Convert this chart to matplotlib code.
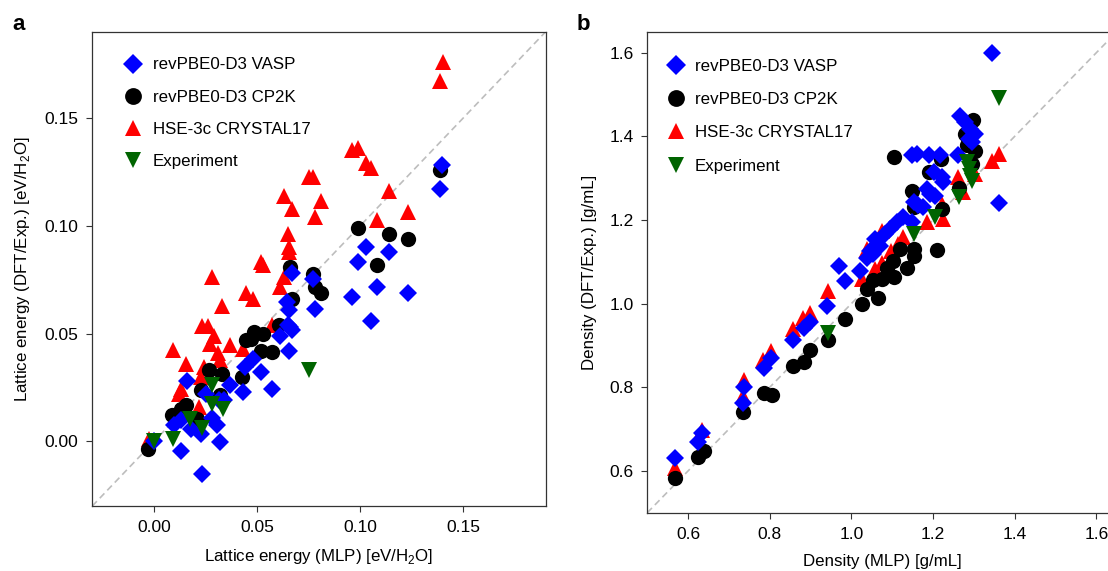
import matplotlib
matplotlib.use("Agg")
import matplotlib.pyplot as plt

plt.rcParams['font.family'] = ['Liberation Sans', 'DejaVu Sans']
plt.rcParams['mathtext.fontset'] = 'custom'
plt.rcParams['mathtext.rm'] = 'Liberation Sans'

labels = ["revPBE0-D3 VASP", "revPBE0-D3 CP2K", "HSE-3c CRYSTAL17", "Experiment"]

# ---- Panel a: lattice energy ----
a_vasp_x = [0.1395, 0.1387, 0.103, 0.114, 0.099, 0.108, 0.123, 0.096, 0.105, 0.067, 0.077, 0.078,
            0.0645, 0.0656, 0.065, 0.066, 0.067, 0.061, 0.0653, 0.048, 0.044, 0.052, 0.057, 0.037,
            0.043, 0.016, 0.025, 0.0315, 0.034, 0.028, 0.0306, 0.0226, 0.0177, 0.0097, 0.013, 0.032,
            0.013, 0.023, 0.0]
a_vasp_y = [0.128, 0.117, 0.090, 0.088, 0.083, 0.0717, 0.069, 0.067, 0.056, 0.078, 0.0755, 0.0616,
            0.0647, 0.0608, 0.054, 0.053, 0.0515, 0.049, 0.042, 0.038, 0.0345, 0.032, 0.0245, 0.026,
            0.023, 0.028, 0.022, 0.019, 0.019, 0.011, 0.0074, 0.0036, 0.0059, 0.0074, 0.0098, -0.0003,
            -0.0045, -0.0153, 0.0]
a_cp2k_x = [0.1387, 0.099, 0.114, 0.123, 0.108, 0.066, 0.077, 0.078, 0.081, 0.067, 0.0605, 0.0484,
            0.053, 0.0444, 0.052, 0.057, 0.0427, 0.0266, 0.033, 0.0226, 0.032, 0.0153, 0.013, 0.0089,
            0.021, -0.003, 0.0468]
a_cp2k_y = [0.126, 0.099, 0.096, 0.094, 0.082, 0.081, 0.0774, 0.0714, 0.0689, 0.066, 0.054, 0.0508,
            0.050, 0.047, 0.042, 0.0415, 0.030, 0.033, 0.0314, 0.0237, 0.0214, 0.0167, 0.0152, 0.012,
            0.0105, -0.0034, 0.0477]
a_hse_x = [0.14, 0.1387, 0.096, 0.099, 0.103, 0.105, 0.075, 0.077, 0.114, 0.063, 0.081, 0.067, 0.078,
           0.108, 0.123, 0.065, 0.0656, 0.0656, 0.052, 0.053, 0.028, 0.063, 0.061, 0.0448, 0.048,
           0.033, 0.023, 0.026, 0.029, 0.027, 0.037, 0.043, 0.057, 0.0092, 0.031, 0.032, 0.0153,
           0.024, 0.0226, 0.013, 0.012, 0.022, -0.0024]
a_hse_y = [0.176, 0.167, 0.135, 0.136, 0.129, 0.127, 0.1228, 0.1228, 0.116, 0.114, 0.1116, 0.108, 0.104,
           0.1026, 0.1065, 0.096, 0.090, 0.088, 0.083, 0.0817, 0.0763, 0.0763, 0.0714, 0.0686, 0.0658,
           0.0627, 0.0534, 0.0534, 0.049, 0.045, 0.0446, 0.043, 0.054, 0.0426, 0.041, 0.0376, 0.0358,
           0.0345, 0.030, 0.0245, 0.022, 0.016, 0.0012]
a_exp_x = [0.075, 0.028, 0.028, 0.0334, 0.0173, 0.023, 0.0092, 0.0]
a_exp_y = [0.033, 0.026, 0.0175, 0.0149, 0.0105, 0.006, 0.0012, 0.0]

# ---- Panel b: density ----
b_vasp_x = [1.343, 1.361, 1.266, 1.279, 1.291, 1.303, 1.287, 1.295, 1.148, 1.160, 1.189, 1.217, 1.262,
            1.201, 1.221, 1.225, 1.184, 1.193, 1.205, 1.152, 1.164, 1.176, 1.127, 1.111, 1.148, 1.094,
            1.082, 1.057, 1.07, 1.045, 1.053, 1.037, 1.02, 0.970, 0.984, 0.941, 0.898, 0.885, 0.857,
            0.803, 0.787, 0.738, 0.734, 0.635, 0.623, 0.567]
b_vasp_y = [1.6, 1.241, 1.448, 1.434, 1.418, 1.406, 1.394, 1.386, 1.356, 1.358, 1.356, 1.356, 1.354,
            1.314, 1.302, 1.29, 1.274, 1.262, 1.258, 1.242, 1.236, 1.23, 1.206, 1.194, 1.194, 1.178,
            1.166, 1.154, 1.138, 1.126, 1.118, 1.110, 1.078, 1.090, 1.053, 0.994, 0.957, 0.941, 0.914,
            0.870, 0.846, 0.80, 0.762, 0.690, 0.670, 0.630]
b_cp2k_x = [1.297, 1.279, 1.283, 1.302, 1.295, 1.104, 1.22, 1.189, 1.264, 1.148, 1.152, 1.221, 1.12,
            1.152, 1.152, 1.209, 1.102, 1.086, 1.135, 1.105, 1.074, 1.053, 1.037, 1.066, 1.025, 0.984,
            0.943, 0.898, 0.885, 0.857, 0.787, 0.806, 0.735, 0.639, 0.625, 0.567]
b_cp2k_y = [1.44, 1.406, 1.378, 1.365, 1.334, 1.350, 1.346, 1.314, 1.276, 1.268, 1.230, 1.226, 1.13,
            1.13, 1.114, 1.129, 1.102, 1.086, 1.086, 1.064, 1.058, 1.056, 1.034, 1.014, 0.998, 0.962,
            0.914, 0.888, 0.86, 0.85, 0.786, 0.782, 0.741, 0.648, 0.634, 0.582]
b_hse_x = [1.362, 1.343, 1.262, 1.302, 1.274, 1.225, 1.184, 1.221, 1.127, 1.115, 1.074, 1.037, 1.098,
           1.057, 1.074, 1.025, 0.943, 0.898, 0.881, 0.857, 0.803, 0.783, 0.738, 0.734, 0.635, 0.567]
b_hse_y = [1.357, 1.342, 1.302, 1.31, 1.266, 1.202, 1.194, 1.238, 1.158, 1.142, 1.174, 1.13, 1.126,
           1.082, 1.098, 1.058, 1.03, 0.978, 0.966, 0.938, 0.886, 0.866, 0.818, 0.778, 0.698, 0.606]
b_exp_x = [1.362, 1.283, 1.287, 1.295, 1.291, 1.264, 1.205, 1.152, 0.943]
b_exp_y = [1.492, 1.338, 1.322, 1.294, 1.306, 1.254, 1.206, 1.166, 0.930]

a_ticks = [0.00, 0.05, 0.10, 0.15]
a_ticklabels = ["0.00", "0.05", "0.10", "0.15"]
b_ticks = [0.6, 0.8, 1.0, 1.2, 1.4, 1.6]
b_ticklabels = ["0.6", "0.8", "1.0", "1.2", "1.4", "1.6"]

fig = plt.figure(figsize=(11.08, 5.71), dpi=100)
axa = fig.add_axes([0.0833, 0.1138, 0.4092, 0.8306])
axb = fig.add_axes([0.5842, 0.1021, 0.4238, 0.8424])

styles = [dict(marker='D', color='#0000ff', ms=9.5, z=4),
          dict(marker='o', color='#000000', ms=11, z=3),
          dict(marker='^', color='#ff0000', ms=11, z=2),
          dict(marker='v', color='#006400', ms=11, z=5)]

def draw(ax, series, lims, ticks, ticklabels, xlabel, ylabel, anchor, spacing):
    ax.plot(lims, lims, ls=(0, (4, 2.5)), color='#bdbdbd', lw=1.2, zorder=1)
    handles = []
    for (x, y), st, lab in zip(series, styles, labels):
        h, = ax.plot(x, y, ls='none', marker=st['marker'], color=st['color'], ms=st['ms'],
                     mec=st['color'], mew=0, zorder=st['z'], label=lab)
        handles.append(h)
    ax.set_xlim(*lims)
    ax.set_ylim(*lims)
    ax.set_xticks(ticks)
    ax.set_xticklabels(ticklabels)
    ax.set_yticks(ticks)
    ax.set_yticklabels(ticklabels)
    ax.tick_params(direction='out', length=4, width=0.8, labelsize=12.5, pad=6, color='#333333')
    for s in ax.spines.values():
        s.set_color('#333333')
        s.set_linewidth(0.9)
    ax.set_xlabel(xlabel, fontsize=12.2, labelpad=9)
    ax.set_ylabel(ylabel, fontsize=12.2, labelpad=9)
    leg = ax.legend(handles=handles, loc='upper left', frameon=False, fontsize=12.2,
                    labelspacing=spacing, handletextpad=0.35, handlelength=1.6,
                    borderaxespad=0.0, bbox_to_anchor=anchor, markerscale=1.1)
    return leg

draw(axa, [(a_vasp_x, a_vasp_y), (a_cp2k_x, a_cp2k_y), (a_hse_x, a_hse_y), (a_exp_x, a_exp_y)],
     (-0.03, 0.19), a_ticks, a_ticklabels,
     'Lattice energy (MLP) [eV/H$_2$O]', 'Lattice energy (DFT/Exp.) [eV/H$_2$O]',
     (0.046, 0.960), 1.02)
draw(axb, [(b_vasp_x, b_vasp_y), (b_cp2k_x, b_cp2k_y), (b_hse_x, b_hse_y), (b_exp_x, b_exp_y)],
     (0.5, 1.65), b_ticks, b_ticklabels,
     'Density (MLP) [g/mL]', 'Density (DFT/Exp.) [g/mL]',
     (0.017, 0.958), 1.08)

fig.text(12 / 1108, 1 - 25 / 571, 'a', fontsize=16, fontweight='bold', va='center', ha='left')
fig.text(577 / 1108, 1 - 25 / 571, 'b', fontsize=16, fontweight='bold', va='center', ha='left')

fig.savefig('out.png', dpi=100)
